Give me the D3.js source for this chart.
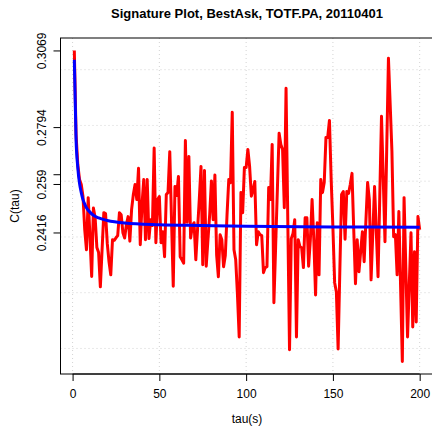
<!DOCTYPE html>
<html>
<head>
<meta charset="utf-8">
<script src="https://cdn.jsdelivr.net/npm/d3@7"></script>
<style>
  body { margin: 0; background: #fff; }
  svg { display: block; font-family: "Liberation Sans", Arial, sans-serif; }
</style>
</head>
<body>
<svg id="chart" width="432" height="427"></svg>
<script>
// signature plot C(tau), tau = 1..200 (red)
const signature = [
  0.3069, 0.2768, 0.2660, 0.2606, 0.2588, 0.2545, 0.2426, 0.2354, 0.2541, 0.2402,
  0.2258, 0.2504, 0.2469, 0.2362, 0.2344, 0.2221, 0.2354, 0.2487, 0.2484, 0.2376,
  0.2311, 0.2264, 0.2390, 0.2388, 0.2397, 0.2405, 0.2487, 0.2480, 0.2415, 0.2396,
  0.2444, 0.2473, 0.2385, 0.2498, 0.2552, 0.2588, 0.2534, 0.2646, 0.2372, 0.2516,
  0.2606, 0.2390, 0.2606, 0.2394, 0.2462, 0.2441, 0.2719, 0.2379, 0.2534, 0.2545,
  0.2379, 0.2419, 0.2329, 0.2552, 0.2559, 0.2706, 0.2462, 0.2223, 0.2581, 0.2549,
  0.2617, 0.2329, 0.2318, 0.2306, 0.2746, 0.2453, 0.2689, 0.2396, 0.2437, 0.2451,
  0.2318, 0.2426, 0.2534, 0.2653, 0.2300, 0.2638, 0.2295, 0.2390, 0.2480, 0.2601,
  0.2462, 0.2622, 0.2336, 0.2257, 0.2408, 0.2390, 0.2293, 0.2333, 0.2480, 0.2606,
  0.2595, 0.2847, 0.2354, 0.2318, 0.2193, 0.2041, 0.2559, 0.2487, 0.2649, 0.2649,
  0.2714, 0.2653, 0.2546, 0.2570, 0.2599, 0.2372, 0.2419, 0.2408, 0.2405, 0.2272,
  0.2290, 0.2293, 0.2577, 0.2534, 0.2732, 0.2164, 0.2365, 0.2570, 0.2772, 0.2732,
  0.2714, 0.2505, 0.2933, 0.2462, 0.1995, 0.2394, 0.2412, 0.2462, 0.2041, 0.2390,
  0.2365, 0.2361, 0.2290, 0.2469, 0.2469, 0.2295, 0.2390, 0.2534, 0.2390, 0.2192,
  0.2451, 0.2264, 0.2606, 0.2559, 0.2595, 0.2757, 0.2757, 0.2818, 0.2606, 0.2434,
  0.2236, 0.2203, 0.1998, 0.2282, 0.2552, 0.2563, 0.2392, 0.2563, 0.2556, 0.2588,
  0.2628, 0.2426, 0.2232, 0.2390, 0.2275, 0.2348, 0.2419, 0.2311, 0.2456, 0.2595,
  0.2534, 0.2246, 0.2415, 0.2581, 0.2419, 0.2257, 0.2545, 0.2833, 0.2610, 0.2383,
  0.2714, 0.3041, 0.2875, 0.2707, 0.2401, 0.2408, 0.2264, 0.2491, 0.2221, 0.1953,
  0.2541, 0.2293, 0.2041, 0.2228, 0.2415, 0.2077, 0.2347, 0.2095, 0.2473, 0.2426
];

// fitted curve (blue), sampled where it was read
const fitTau = [1, 2, 3, 4, 5, 6, 7, 8, 10, 12, 15, 20, 30, 50, 75, 100, 150, 200];
const fitC   = [0.3036, 0.2750, 0.2649, 0.2592, 0.2559, 0.2534, 0.2518, 0.2505, 0.2489,
                0.2478, 0.2468, 0.2459, 0.2450, 0.2444, 0.2441, 0.2438, 0.2436, 0.2435];

const xTicks = [0, 50, 100, 150, 200];
const yGrid = [0.20, 0.22, 0.24, 0.26, 0.28, 0.30];
const yTicks = [0.3069, 0.2794, 0.2625, 0.259, 0.2416];
const yTickLabels = ["0.3069", "0.2794", "", "0.259", "0.2416"];

const svg = d3.select("#chart");
const box = { left: 60.5, right: 433.5, top: 38, bottom: 374 };

// R style 4% padding on both axes
function padded(ext) {
  const p = (ext[1] - ext[0]) * 0.04;
  return [ext[0] - p, ext[1] + p];
}

const taus = signature.map((d, i) => i + 1);
const x = d3.scaleLinear().domain(padded(d3.extent(taus))).range([box.left, box.right]);
const y = d3.scaleLinear().domain(padded(d3.extent(signature))).range([box.bottom, box.top]);

// grid
const grid = svg.append("g")
  .attr("stroke", "#d3d3d3")
  .attr("stroke-width", 1)
  .attr("stroke-dasharray", "1,3");
grid.selectAll("line.v").data(xTicks).join("line")
  .attr("x1", d => x(d)).attr("x2", d => x(d))
  .attr("y1", box.top).attr("y2", box.bottom);
grid.selectAll("line.h").data(yGrid).join("line")
  .attr("x1", box.left).attr("x2", box.right)
  .attr("y1", d => y(d)).attr("y2", d => y(d));

// red signature line
svg.append("path")
  .datum(signature)
  .attr("d", d3.line().x((d, i) => x(i + 1)).y(d => y(d)))
  .attr("fill", "none")
  .attr("stroke", "#ff0000")
  .attr("stroke-width", 3)
  .attr("stroke-linejoin", "round");

// blue fit
svg.append("path")
  .datum(fitTau.map((t, i) => [t, fitC[i]]))
  .attr("d", d3.line().x(d => x(d[0])).y(d => y(d[1])).curve(d3.curveMonotoneX))
  .attr("fill", "none")
  .attr("stroke", "#0000ff")
  .attr("stroke-width", 3);

// frame
svg.append("rect")
  .attr("x", box.left).attr("y", box.top)
  .attr("width", box.right - box.left).attr("height", box.bottom - box.top)
  .attr("fill", "none").attr("stroke", "#000").attr("stroke-width", 1);

// x axis
const xAxis = svg.append("g")
  .attr("transform", `translate(0,${box.bottom})`)
  .call(d3.axisBottom(x).tickValues(xTicks).tickSize(7).tickSizeOuter(0).tickFormat(d3.format("d")));
xAxis.select(".domain").attr("d", `M${x(0)},0H${x(200)}`);
xAxis.selectAll("text")
  .attr("y", 24).attr("dy", 0)
  .attr("font-size", 12).attr("fill", "#000");

// y axis
const yAxis = svg.append("g")
  .attr("transform", `translate(${box.left},0)`)
  .call(d3.axisLeft(y).tickValues(yTicks).tickSize(7).tickSizeOuter(0)
    .tickFormat((d, i) => yTickLabels[i]));
yAxis.select(".domain").attr("d", `M0,${y(d3.min(yTicks))}V${y(d3.max(yTicks))}`);
yAxis.selectAll("text")
  .attr("transform", "rotate(-90)")
  .attr("x", 0).attr("y", -15).attr("dy", 0)
  .style("text-anchor", "middle")
  .attr("font-size", 12).attr("fill", "#000");

// titles
const cx = (box.left + box.right) / 2;
svg.append("text")
  .attr("x", cx).attr("y", 18)
  .attr("text-anchor", "middle")
  .attr("font-size", 13).attr("font-weight", "bold")
  .text("Signature Plot, BestAsk, TOTF.PA, 20110401");
svg.append("text")
  .attr("x", cx).attr("y", 423)
  .attr("text-anchor", "middle")
  .attr("font-size", 12)
  .text("tau(s)");
svg.append("text")
  .attr("transform", `translate(19,${(box.top + box.bottom) / 2}) rotate(-90)`)
  .attr("text-anchor", "middle")
  .attr("font-size", 12)
  .text("C(tau)");
</script>
</body>
</html>
